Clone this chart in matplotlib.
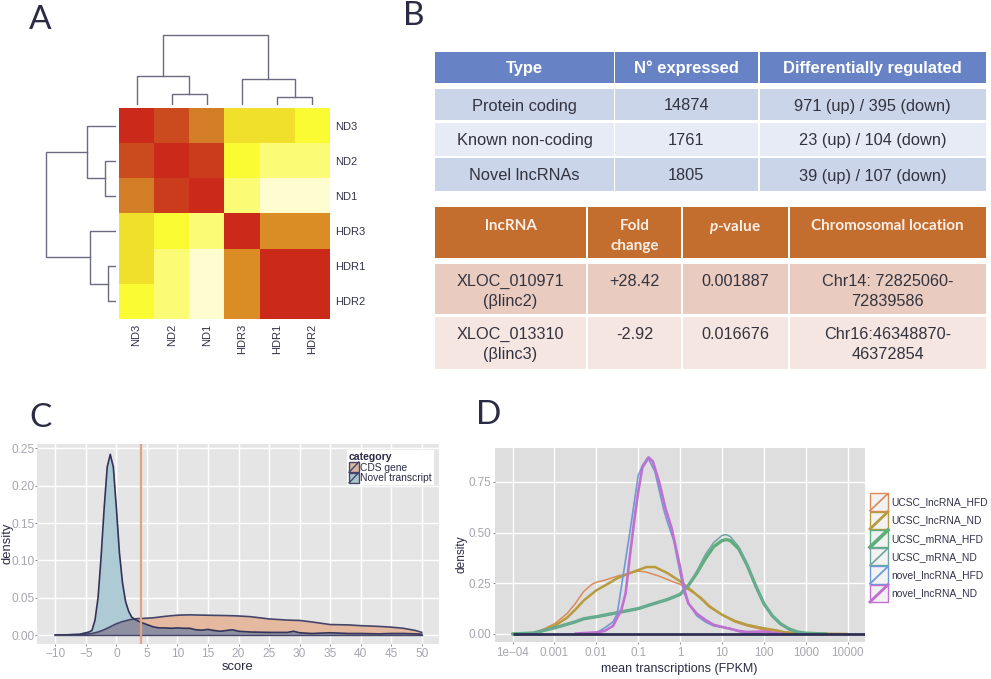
import matplotlib
matplotlib.use("Agg")
import matplotlib.pyplot as plt
import numpy as np
from matplotlib.colors import LinearSegmentedColormap
from matplotlib.legend_handler import HandlerBase
from matplotlib.lines import Line2D
from matplotlib.patches import Patch, Rectangle

W, H = 991, 679

plt.rcParams['font.family'] = ['Liberation Sans', 'DejaVu Sans']
plt.rcParams['mathtext.fontset'] = 'custom'
plt.rcParams['mathtext.it'] = 'Lato:italic:bold'
plt.rcParams['mathtext.rm'] = 'Lato:bold'

# panel A
samples = ['ND3', 'ND2', 'ND1', 'HDR3', 'HDR1', 'HDR2']
similarity = [
    [1.00, 0.88, 0.72, 0.30, 0.30, 0.20],
    [0.88, 1.00, 0.93, 0.20, 0.10, 0.10],
    [0.72, 0.93, 1.00, 0.10, 0.00, 0.00],
    [0.30, 0.20, 0.10, 1.00, 0.65, 0.65],
    [0.30, 0.10, 0.00, 0.65, 1.00, 1.00],
    [0.20, 0.10, 0.00, 0.65, 1.00, 1.00],
]
top_heights = [11.3, 28.7, 8.3, 25.7, 70]
left_heights = [11.4, 29, 8.4, 26, 69.7]

# panel B
table1_head = ['Type', 'N\u00b0 expressed', 'Differentially regulated']
table1_rows = [
    ['Protein coding', '14874', '971 (up) / 395 (down)'],
    ['Known non-coding', '1761', '23 (up) / 104 (down)'],
    ['Novel lncRNAs', '1805', '39 (up) / 107 (down)'],
]
table2_head = ['lncRNA', 'Fold\nchange', '$\\mathit{p}$-value', 'Chromosomal location']
table2_rows = [
    ['XLOC_010971\n(\u03b2linc2)', '+28.42', '0.001887', 'Chr14: 72825060-\n72839586'],
    ['XLOC_013310\n(\u03b2linc3)', '-2.92', '0.016676', 'Chr16:46348870-\n46372854'],
]

# panel C
score = [-10, -8, -6, -5, -4.5, -4, -3.5, -3, -2.5, -2, -1.5, -1, -0.5, 0, 0.5, 1, 1.5, 2, 2.5, 3,
         3.5, 4, 5, 6, 7, 8, 9, 10, 11, 12, 13, 14, 15, 16, 17, 18, 19, 20, 21, 22, 25, 28, 29, 30,
         32, 35, 38, 40, 43, 45, 47, 49, 50]
cds_density = [0, 0.0002, 0.0005, 0.001, 0.0015, 0.002, 0.003, 0.004, 0.0055, 0.007, 0.009, 0.011,
               0.013, 0.015, 0.0165, 0.018, 0.019, 0.02, 0.021, 0.0215, 0.022, 0.022, 0.0225, 0.023,
               0.024, 0.025, 0.0258, 0.0265, 0.0268, 0.027, 0.0268, 0.0266, 0.0265, 0.0263, 0.0262,
               0.026, 0.0258, 0.0255, 0.025, 0.0245, 0.0215, 0.02, 0.0197, 0.0195, 0.0175, 0.014,
               0.0135, 0.0125, 0.0115, 0.0105, 0.009, 0.006, 0.0035]
novel_density = [0, 0.0003, 0.001, 0.003, 0.004, 0.006, 0.02, 0.05, 0.105, 0.17, 0.225, 0.242, 0.225,
                 0.17, 0.11, 0.07, 0.045, 0.032, 0.024, 0.021, 0.019, 0.017, 0.014, 0.011, 0.0095,
                 0.0095, 0.009, 0.0095, 0.009, 0.009, 0.007, 0.0065, 0.0075, 0.006, 0.005, 0.006,
                 0.007, 0.005, 0.0045, 0.004, 0.0035, 0.0035, 0.005, 0.003, 0.002, 0.003, 0.002,
                 0.002, 0.0015, 0.002, 0.002, 0.0015, 0.001]
score_cutoff = 4

# panel D, x values are log10(FPKM)
lnc_hfd_x = [-4, -3.5, -3.3, -3, -2.7, -2.5, -2.3, -2.1, -2, -1.8, -1.5, -1.2, -1, -0.8, -0.5, -0.2,
             0, 0.3, 0.5, 0.7, 1, 1.3, 1.6, 2, 2.5, 3, 4]
lnc_hfd_y = [0, 0.006, 0.02, 0.05, 0.10, 0.15, 0.21, 0.245, 0.255, 0.265, 0.285, 0.30, 0.31, 0.305,
             0.285, 0.26, 0.245, 0.205, 0.18, 0.14, 0.095, 0.06, 0.04, 0.02, 0.01, 0.002, 0]
lnc_nd_x = [-4, -3.5, -3.3, -3, -2.7, -2.5, -2.3, -2, -1.7, -1.5, -1.2, -1, -0.8, -0.6, -0.3, 0, 0.3,
            0.5, 0.7, 1, 1.3, 1.6, 2, 2.3, 2.5, 3, 4]
lnc_nd_y = [0, 0.004, 0.015, 0.04, 0.08, 0.12, 0.165, 0.215, 0.25, 0.275, 0.30, 0.315, 0.33, 0.33,
            0.30, 0.26, 0.21, 0.175, 0.135, 0.095, 0.065, 0.045, 0.028, 0.018, 0.008, 0.002, 0]
mrna_x = [-4, -3.5, -3.3, -3, -2.5, -2.3, -2, -1.5, -1, -0.7, -0.3, 0, 0.2, 0.4, 0.6, 0.8, 1, 1.1,
          1.2, 1.4, 1.6, 1.8, 2, 2.2, 2.4, 2.6, 2.8, 3, 3.5]
mrna_hfd_y = [0, 0.005, 0.015, 0.03, 0.06, 0.075, 0.085, 0.105, 0.125, 0.145, 0.17, 0.195, 0.24, 0.30,
              0.37, 0.43, 0.46, 0.465, 0.46, 0.42, 0.34, 0.24, 0.15, 0.09, 0.05, 0.025, 0.01, 0.004, 0]
mrna_nd_y = [0, 0.005, 0.015, 0.03, 0.06, 0.075, 0.085, 0.105, 0.125, 0.145, 0.17, 0.195, 0.24, 0.31,
             0.39, 0.45, 0.485, 0.49, 0.48, 0.43, 0.345, 0.24, 0.15, 0.09, 0.05, 0.025, 0.01, 0.004, 0]
novel_hfd_x = [-2.5, -2, -1.8, -1.6, -1.5, -1.35, -1.2, -1, -0.9, -0.77, -0.6, -0.4, -0.3, -0.15, 0,
               0.1, 0.2, 0.4, 0.6, 0.8, 1, 1.2, 1.4, 1.6, 2]
novel_hfd_y = [0, 0.005, 0.03, 0.06, 0.10, 0.30, 0.50, 0.78, 0.83, 0.87, 0.80, 0.62, 0.55, 0.46, 0.30,
               0.20, 0.15, 0.09, 0.06, 0.04, 0.033, 0.028, 0.012, 0.005, 0]
novel_nd_x = [-2.5, -2, -1.8, -1.6, -1.4, -1.3, -1.2, -1.1, -1, -0.9, -0.75, -0.65, -0.5, -0.35, -0.2,
              0, 0.1, 0.2, 0.4, 0.6, 0.8, 1, 1.2, 1.4, 1.6, 2, 2.3, 2.5]
novel_nd_y = [0.002, 0.008, 0.015, 0.04, 0.12, 0.20, 0.38, 0.55, 0.70, 0.82, 0.87, 0.85, 0.75, 0.62,
              0.52, 0.33, 0.22, 0.15, 0.10, 0.07, 0.045, 0.035, 0.025, 0.015, 0.01, 0.012, 0.004, 0]
fpkm_ticks = [1e-4, 1e-3, 1e-2, 1e-1, 1, 10, 100, 1000, 10000]
fpkm_labels = ['1e\u221204', '0.001', '0.01', '0.1', '1', '10', '100', '1000', '10000']

DARK = '#2b2b45'
GREY_TICK = '#a6a6b2'


def axes_px(left, top, right, bottom, **kw):
    return fig.add_axes([left / W, 1 - bottom / H, (right - left) / W, (bottom - top) / H], **kw)


def label_at(axis, x_px, y_px):
    axis.set_label_coords(x_px / W, 1 - y_px / H, transform=fig.transFigure)
    axis.label.set_verticalalignment('center')
    axis.label.set_horizontalalignment('center')


class KeyHandler(HandlerBase):
    # ggplot style legend key: box with a diagonal line
    def create_artists(self, legend, orig, xd, yd, w, h, fontsize, trans):
        box = Rectangle((-xd, -yd), w, h, facecolor=orig.get_facecolor(), edgecolor=orig.get_edgecolor(),
                        linewidth=1.0, transform=trans)
        diag = Line2D([-xd, -xd + w], [-yd, -yd + h], color=orig.get_edgecolor(),
                      linewidth=orig.get_linewidth(), transform=trans)
        return [box, diag]


def tree_lines(heights):
    # branches as (child position 1, child position 2, child height 1, child height 2, merge height)
    h_a, h_b, h_c, h_d, h_e = heights
    mid_a, mid_b = 2.0, 5.0
    left_node = (0.5 + mid_a) / 2
    right_node = (3.5 + mid_b) / 2
    return [(left_node, right_node, h_b, h_d, h_e),
            (0.5, mid_a, 0, h_a, h_b),
            (3.5, mid_b, 0, h_c, h_d),
            (1.5, 2.5, 0, 0, h_a),
            (4.5, 5.5, 0, 0, h_c)]


fig = plt.figure(figsize=(W / 100, H / 100), dpi=100, facecolor='white')
page = fig.add_axes([0, 0, 1, 1])
page.set_xlim(0, W)
page.set_ylim(H, 0)
page.axis('off')

for letter, x, y in [('A', 29, 29), ('B', 403, 25), ('C', 29, 427), ('D', 476, 424)]:
    page.text(x, y, letter, fontsize=24, color=DARK, family='Lato', va='baseline', ha='left')

# A: heatmap with dendrograms
heat_cmap = LinearSegmentedColormap.from_list('heat', [
    (0.0, '#fdfdd0'), (0.1, '#fbfb75'), (0.2, '#fbfb33'), (0.3, '#f0df2b'),
    (0.65, '#db8e25'), (0.72, '#d47f28'), (0.88, '#cc4c20'), (1.0, '#cb2a1a')])
ax_heat = axes_px(119, 108, 330, 319)
ax_heat.imshow(similarity, cmap=heat_cmap, vmin=0, vmax=1, aspect='auto', interpolation='nearest')
ax_heat.set_xticks(range(6), samples, rotation=90, fontsize=8, color='#33334a')
ax_heat.set_yticks(range(6), samples, fontsize=8, color='#33334a')
ax_heat.yaxis.tick_right()
ax_heat.tick_params(length=0, pad=3.5)
for s in ax_heat.spines.values():
    s.set_visible(False)

ax_top = axes_px(119, 30, 330, 105)
ax_top.set_xlim(0, 6)
ax_top.set_ylim(0, 75)
ax_top.axis('off')
for x0, x1, h0, h1, h in tree_lines(top_heights):
    ax_top.plot([x0, x0, x1, x1], [h0, h, h, h1], color='#6a6a80', lw=1.0, solid_joinstyle='miter')

ax_left = axes_px(41, 108, 116, 319)
ax_left.set_ylim(6, 0)
ax_left.set_xlim(75, 0)
ax_left.axis('off')
for y0, y1, h0, h1, h in tree_lines(left_heights):
    ax_left.plot([h0, h, h, h1], [y0, y0, y1, y1], color='#6a6a80', lw=1.0, solid_joinstyle='miter')

# B: tables
t1_cols = [(435, 614), (615, 757.5), (760, 985.5)]
t1_rows = [(51.7, 82.7), (89, 120), (122.7, 155.7), (158, 191)]
t1_colors = ['#6783c6', '#cbd5e9', '#e7ebf5', '#cbd5e9']
t2_cols = [(435, 586), (588, 681), (682.7, 788), (790, 985.5)]
t2_rows = [(207, 257.7), (264, 314.3), (316.7, 369)]
t2_colors = ['#c36e2e', '#e9ccbf', '#f5e6e1']

for r, (top, bottom) in enumerate(t1_rows):
    for c, (left, right) in enumerate(t1_cols):
        page.add_patch(Rectangle((left, top), right - left, bottom - top, fc=t1_colors[r], ec='none'))
        xc = (left + right) / 2
        yc = (top + bottom) / 2
        if r == 0:
            page.text(xc, yc, table1_head[c], fontsize=11.9, fontweight='bold', color='white',
                      ha='center', va='center_baseline')
        else:
            page.text(xc, yc, table1_rows[r - 1][c], fontsize=11.8, color='#333340',
                      ha='center', va='center_baseline')

for r, (top, bottom) in enumerate(t2_rows):
    for c, (left, right) in enumerate(t2_cols):
        page.add_patch(Rectangle((left, top), right - left, bottom - top, fc=t2_colors[r], ec='none'))
        xc = (left + right) / 2
        cell = table2_head[c] if r == 0 else table2_rows[r - 1][c]
        for i, line in enumerate(cell.split('\n')):
            if r == 0:
                page.text(xc, top + 17.5 + 20 * i, line, fontsize=11, fontweight='bold', family='Lato',
                          color='#fbeee6', ha='center', va='center_baseline')
            else:
                page.text(xc, top + 16 + 20 * i, line, fontsize=11.7, color='#333340',
                          ha='center', va='center_baseline')

# C: density of scores
ax_c = axes_px(37.3, 444.3, 439.3, 644.3, facecolor='#e5e5e5')
score_arr = np.array(score)
cds_arr = np.array(cds_density)
novel_arr = np.array(novel_density)
ax_c.fill_between(score_arr, 0, cds_arr, color='#e5b9a0', lw=0, zorder=2)
ax_c.fill_between(score_arr, 0, novel_arr, color='#adcad5', lw=0, zorder=2)
ax_c.fill_between(score_arr, 0, np.minimum(cds_arr, novel_arr), color='#8f8fa2', lw=0, zorder=2.1)
ax_c.plot(score_arr, cds_arr, color='#45456a', lw=1.2, zorder=3)
ax_c.plot(score_arr, novel_arr, color='#33335a', lw=1.2, zorder=3)
ax_c.plot(score_arr, np.zeros(len(score_arr)), color='#45456a', lw=1.0, zorder=3)
ax_c.axvline(score_cutoff, color='#e0a384', lw=1.6, zorder=4)
ax_c.set_xlim(-12.95, 52.88)
ax_c.set_ylim(-0.01245, 0.2554)
ax_c.set_xticks(np.arange(-10, 51, 5), ['\u221210', '\u22125'] + [str(v) for v in range(0, 51, 5)])
ax_c.set_yticks(np.arange(0, 0.26, 0.05), ['0.00', '0.05', '0.10', '0.15', '0.20', '0.25'])
ax_c.tick_params(labelsize=8.6, labelcolor=GREY_TICK, color='#8a8a8a', length=1.5, width=0.7, pad=0.5)
ax_c.tick_params(axis='x', pad=1)
ax_c.grid(True, color='white', lw=1.0, zorder=1)
ax_c.set_axisbelow(True)
for s in ax_c.spines.values():
    s.set_visible(False)
ax_c.set_xlabel('score', fontsize=9.4, color=DARK)
ax_c.set_ylabel('density', fontsize=9.4, color=DARK)
label_at(ax_c.xaxis, 238, 667)
label_at(ax_c.yaxis, 7, 543)
leg_c = ax_c.legend(handles=[Patch(facecolor='#d9b59f', edgecolor='#45456a', linewidth=1.0, label='CDS gene'),
                             Patch(facecolor='#a9c5d0', edgecolor='#45456a', linewidth=1.0, label='Novel transcript')],
                    title='category', handler_map={Patch: KeyHandler()}, loc='upper right',
                    bbox_to_anchor=(434 / W, 1 - 450 / H), bbox_transform=fig.transFigure,
                    fontsize=7.4, title_fontproperties={'weight': 'bold', 'size': 7.6},
                    alignment='left', fancybox=False, framealpha=1, edgecolor='none', facecolor='white',
                    borderpad=0.2, labelspacing=0.0, handlelength=0.95, handleheight=1.15, handletextpad=0.15,
                    borderaxespad=0, labelcolor=DARK)
leg_c.get_title().set_color(DARK)
leg_c.set_zorder(6)

# D: density of expression
ax_d = axes_px(495, 448.3, 865, 641.7, facecolor='#dedede')
d_series = [
    ('UCSC_lncRNA_HFD', lnc_hfd_x, lnc_hfd_y, '#d98c5a', 1.1),
    ('UCSC_lncRNA_ND', lnc_nd_x, lnc_nd_y, '#b89b3f', 1.8),
    ('UCSC_mRNA_HFD', mrna_x, mrna_hfd_y, '#5dae7c', 2.4),
    ('UCSC_mRNA_ND', mrna_x, mrna_nd_y, '#6fa7a0', 1.1),
    ('novel_lncRNA_HFD', novel_hfd_x, novel_hfd_y, '#6f9ad8', 1.2),
    ('novel_lncRNA_ND', novel_nd_x, novel_nd_y, '#c070d0', 1.9),
]
d_handles = []
for name, xs, ys, col, lw in d_series:
    ax_d.plot(10 ** np.array(xs), ys, color=col, lw=lw, zorder=3, solid_capstyle='round')
    d_handles.append(Patch(facecolor='#f2f2f2', edgecolor=col, linewidth=lw * 1.1, label=name))
ax_d.set_xscale('log')
ax_d.set_xlim(10 ** -4.418, 10 ** 4.415)
ax_d.set_ylim(-0.038, 0.915)
ax_d.hlines(0, 1e-4, 10 ** 4.415, color='#2f2f55', lw=2.0, zorder=4)
ax_d.set_xticks(fpkm_ticks, fpkm_labels)
ax_d.minorticks_off()
ax_d.set_yticks([0, 0.25, 0.5, 0.75], ['0.00', '0.25', '0.50', '0.75'])
ax_d.tick_params(labelsize=8.4, labelcolor=GREY_TICK, color='#8a8a8a', length=1.5, width=0.7, pad=1)
ax_d.tick_params(axis='x', pad=2)
ax_d.grid(True, color='white', lw=1.0, zorder=1)
ax_d.set_axisbelow(True)
for s in ax_d.spines.values():
    s.set_visible(False)
ax_d.set_xlabel('mean transcriptions (FPKM)', fontsize=9, color=DARK)
ax_d.set_ylabel('density', fontsize=8.6, color=DARK)
label_at(ax_d.xaxis, 679, 669)
label_at(ax_d.yaxis, 461.5, 554)
ax_d.legend(handles=d_handles, handler_map={Patch: KeyHandler()}, loc='upper left',
            bbox_to_anchor=(870 / W, 1 - 493.5 / H), bbox_transform=fig.transFigure, frameon=False,
            fontsize=7.4, borderpad=0, borderaxespad=0, labelspacing=0.1, handlelength=1.75,
            handleheight=2.2, handletextpad=0.3, labelcolor='#33334a')

fig.savefig('out.png', dpi=100)
